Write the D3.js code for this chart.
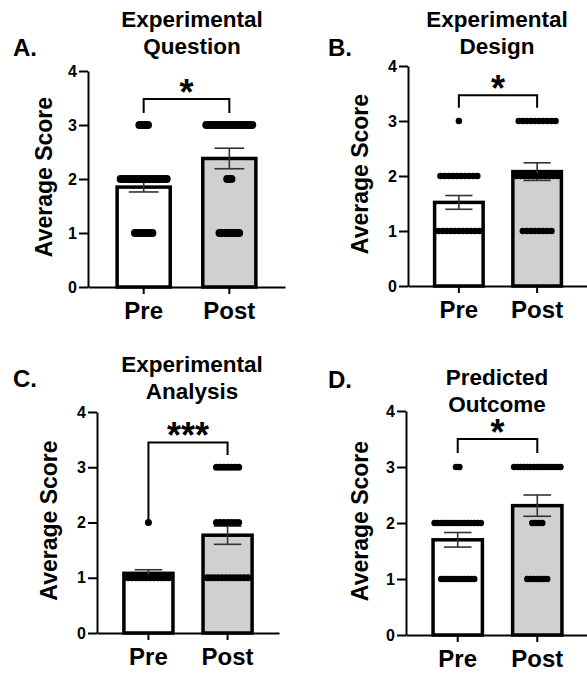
<!DOCTYPE html>
<html>
<head>
<meta charset="utf-8">
<script src="https://cdn.jsdelivr.net/npm/d3@7"></script>
<style>
  body { margin: 0; background: #fff; }
  svg text { font-family: "Liberation Sans", Arial, Helvetica, sans-serif; font-weight: bold; fill: #000; }
</style>
</head>
<body>
<svg width="587" height="673"></svg>
<script>
// data
var panelLetters = ["A.", "B.", "C.", "D."];
var titles = [["Experimental", "Question"], ["Experimental", "Design"],
              ["Experimental", "Analysis"], ["Predicted", "Outcome"]];
var groups = ["Pre", "Post"];
var scores = [1, 2, 3];
var yTicks = [0, 1, 2, 3, 4];

var preMeans  = [1.85, 1.52, 1.08, 1.70];
var preSems   = [0.09, 0.125, 0.065, 0.13];
var postMeans = [2.38, 2.08, 1.77, 2.31];
var postSems  = [0.19, 0.16, 0.165, 0.19];

// number of students at score 1, 2, 3
var preCounts  = [[9, 22, 5], [11, 10, 1], [12, 1, 0], [11, 15, 2]];
var postCounts = [[10, 3, 22], [8, 11, 10], [12, 7, 7], [7, 4, 15]];

var stars = ["*", "*", "***", "*"];
var bracketTop   = [3.48, 3.47, 3.45, 3.50];
var bracketLeft  = [3.22, 3.24, 2.04, 3.25];
var bracketRight = [3.22, 3.24, 3.22, 3.25];

// layout of the four panels
var layout = [
  {ax: 88,  xEnd: 285, y0: 287, y4: 71,  tx: 192, ty: 27,  lx: 13,  ly: 56,  yl: 51.5, r: 3.9, s: 2.2},
  {ax: 408, xEnd: 588, y0: 286, y4: 66,  tx: 497, ty: 27,  lx: 328, ly: 56,  yl: 368,  r: 3.25, s: 4.1},
  {ax: 97,  xEnd: 279, y0: 633, y4: 412, tx: 192, ty: 372, lx: 13,  ly: 387, yl: 56.5, r: 3.5, s: 3.7},
  {ax: 406, xEnd: 589, y0: 635, y4: 411, tx: 497, ty: 385, lx: 328, ly: 388, yl: 368,  r: 3.3, s: 3.3}
];

var svg = d3.select("svg");

layout.forEach(function(L, i) {
  var g = svg.append("g");

  var x = d3.scaleBand()
    .domain(groups)
    .range([L.ax, L.xEnd])
    .paddingInner(0.38)
    .paddingOuter(0.34);

  var y = d3.scaleLinear()
    .domain([0, 4])
    .range([L.y0, L.y4]);

  var means = [preMeans[i], postMeans[i]];
  var sems = [preSems[i], postSems[i]];
  var counts = [preCounts[i], postCounts[i]];

  // bars
  g.selectAll(".bar")
    .data(groups)
    .enter()
    .append("rect")
    .attr("x", function(d) { return x(d); })
    .attr("width", x.bandwidth())
    .attr("y", function(d, j) { return y(means[j]); })
    .attr("height", function(d, j) { return y(0) - y(means[j]); })
    .attr("fill", function(d, j) { return j == 0 ? "#fff" : "#d0d0d0"; })
    .attr("stroke", "#000")
    .attr("stroke-width", 3.5);

  // error bars
  var cap = x.bandwidth() * 0.28;
  groups.forEach(function(d, j) {
    var cx = x(d) + x.bandwidth() / 2;
    var eb = g.append("g").attr("stroke", "#333").attr("stroke-width", 1.6);
    eb.append("line")
      .attr("x1", cx).attr("x2", cx)
      .attr("y1", y(means[j] - sems[j])).attr("y2", y(means[j] + sems[j]));
    [means[j] - sems[j], means[j] + sems[j]].forEach(function(v) {
      eb.append("line")
        .attr("x1", cx - cap).attr("x2", cx + cap)
        .attr("y1", y(v)).attr("y2", y(v));
    });
  });

  // individual points
  groups.forEach(function(d, j) {
    var cx = x(d) + x.bandwidth() / 2;
    var pts = [];
    scores.forEach(function(sc, k) {
      var n = counts[j][k];
      for (var m = 0; m < n; m++) {
        pts.push({score: sc, off: (m - (n - 1) / 2) * L.s});
      }
    });
    g.selectAll(".dot" + j)
      .data(pts)
      .enter()
      .append("circle")
      .attr("cx", function(p) { return cx + p.off; })
      .attr("cy", function(p) { return y(p.score); })
      .attr("r", L.r)
      .attr("fill", "#000");
  });

  // axes
  var yAxis = g.append("g")
    .attr("transform", "translate(" + L.ax + ",0)")
    .call(d3.axisLeft(y).tickValues(yTicks).tickFormat(d3.format("d")).tickSize(9).tickPadding(2).tickSizeOuter(0));
  yAxis.select(".domain").attr("stroke-width", 2);
  yAxis.selectAll(".tick line").attr("stroke-width", 2);
  yAxis.selectAll("text").style("font-size", "16px");

  var xAxis = g.append("g")
    .attr("transform", "translate(0," + L.y0 + ")")
    .call(d3.axisBottom(x).tickSize(7).tickSizeOuter(0).tickPadding(10));
  xAxis.select(".domain").attr("stroke-width", 2);
  xAxis.selectAll(".tick line").attr("stroke-width", 2);
  xAxis.selectAll("text").remove();
  groups.forEach(function(d) {
    g.append("text")
      .attr("x", x(d) + x.bandwidth() / 2)
      .attr("y", L.y0 + 32)
      .attr("text-anchor", "middle")
      .style("font-size", "24px")
      .text(d);
  });

  // significance bracket
  var xl = x("Pre") + x.bandwidth() / 2, xr = x("Post") + x.bandwidth() / 2;
  g.append("path")
    .attr("d", "M" + xl + "," + y(bracketLeft[i]) + "V" + y(bracketTop[i]) +
               "H" + xr + "V" + y(bracketRight[i]))
    .attr("fill", "none")
    .attr("stroke", "#000")
    .attr("stroke-width", 2);
  g.append("text")
    .attr("x", (xl + xr) / 2)
    .attr("y", y(bracketTop[i]) + 6)
    .attr("text-anchor", "middle")
    .style("font-size", "36px")
    .text(stars[i]);

  // y label
  g.append("text")
    .attr("transform", "translate(" + L.yl + "," + ((L.y0 + L.y4) / 2 - 2) + ") rotate(-90)")
    .attr("text-anchor", "middle")
    .style("font-size", "23px")
    .text("Average Score");

  // title and panel letter
  titles[i].forEach(function(t, k) {
    g.append("text")
      .attr("x", L.tx)
      .attr("y", L.ty + k * 27)
      .attr("text-anchor", "middle")
      .style("font-size", "22.5px")
      .text(t);
  });
  g.append("text")
    .attr("x", L.lx)
    .attr("y", L.ly)
    .style("font-size", "24px")
    .text(panelLetters[i]);
});
</script>
</body>
</html>
